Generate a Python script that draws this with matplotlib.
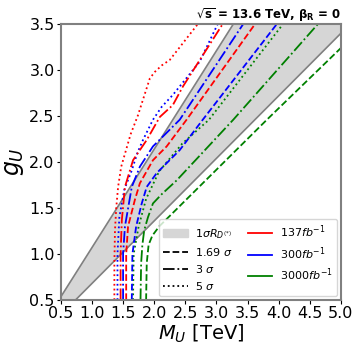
import numpy as np
import matplotlib
matplotlib.use('Agg')
import matplotlib.pyplot as plt
from matplotlib.patches import Patch
from matplotlib.lines import Line2D

# 1 sigma band of R_D(*):  g_U = k * M_U
band_M = [0.5, 5.0]
band_k_low = 0.68
band_k_high = 1.07

# curves: (M_U [TeV], g_U)
red_5s_M = [1.36, 1.36, 1.37, 1.39, 1.42, 1.47, 1.53, 1.62, 1.74, 1.83, 1.93, 2.01, 2.12, 2.25, 2.47, 2.70]
red_5s_g = [0.50, 0.90, 1.26, 1.50, 1.73, 1.95, 2.09, 2.30, 2.51, 2.70, 2.91, 2.98, 3.05, 3.11, 3.30, 3.50]

blue_5s_M = [1.41, 1.41, 1.44, 1.52, 1.64, 1.73, 1.82, 1.98, 2.12, 2.30, 2.73, 3.02]
blue_5s_g = [0.50, 1.00, 1.40, 1.70, 1.91, 2.10, 2.24, 2.46, 2.60, 2.73, 3.09, 3.50]

red_3s_M = [1.46, 1.46, 1.48, 1.53, 1.66, 1.88, 2.09, 2.30, 2.46, 3.10]
red_3s_g = [0.50, 1.00, 1.37, 1.73, 2.02, 2.24, 2.49, 2.62, 2.82, 3.50]

blue_3s_M = [1.50, 1.50, 1.53, 1.64, 1.77, 1.98, 2.41, 3.43]
blue_3s_g = [0.50, 1.00, 1.30, 1.73, 1.95, 2.17, 2.46, 3.50]

red_169_M = [1.55, 1.55, 1.58, 1.69, 1.77, 1.98, 2.20, 2.52, 3.62]
red_169_g = [0.50, 1.00, 1.30, 1.59, 1.77, 2.02, 2.17, 2.46, 3.50]

blue_169_M = [1.64, 1.65, 1.71, 1.80, 1.88, 2.04, 2.41, 2.78, 3.97]
blue_169_g = [0.50, 1.00, 1.30, 1.55, 1.73, 1.88, 2.13, 2.46, 3.50]

green_5s_M = [1.66, 1.67, 1.75, 1.87, 2.08, 2.45, 2.88, 4.07]
green_5s_g = [0.50, 1.00, 1.30, 1.60, 1.90, 2.20, 2.46, 3.50]

green_3s_M = [1.78, 1.79, 1.81, 1.84, 1.90, 1.98, 2.12, 2.36, 3.27, 4.63]
green_3s_g = [0.50, 0.90, 1.10, 1.26, 1.40, 1.55, 1.65, 1.80, 2.46, 3.50]

green_169_M = [1.87, 1.88, 1.91, 1.97, 2.08, 3.81, 5.00]
green_169_g = [0.50, 0.90, 1.10, 1.20, 1.30, 2.46, 3.24]

lumi_labels = [r'$137fb^{-1}$', r'$300fb^{-1}$', r'$3000fb^{-1}$']
lumi_colors = ['red', 'blue', 'green']
sig_labels = [r'1.69 $\sigma$', r'3 $\sigma$', r'5 $\sigma$']
sig_styles = ['--', '-.', ':']

fig = plt.figure(figsize=(3.6, 3.54), dpi=100)
ax = fig.add_axes([0.169, 0.1525, 0.778, 0.7795])

# 带状区域
bm = np.array(band_M)
ax.fill_between(bm, band_k_low * bm, band_k_high * bm, color='#d6d6d6', lw=0)
ax.plot(bm, band_k_low * bm, color='gray', lw=1.2)
ax.plot(bm, band_k_high * bm, color='gray', lw=1.2)

lw = 1.3
ax.plot(red_5s_M, red_5s_g, color='red', ls=':', lw=lw)
ax.plot(blue_5s_M, blue_5s_g, color='blue', ls=':', lw=lw)
ax.plot(green_5s_M, green_5s_g, color='green', ls=':', lw=lw)
ax.plot(red_3s_M, red_3s_g, color='red', ls='-.', lw=lw)
ax.plot(blue_3s_M, blue_3s_g, color='blue', ls='-.', lw=lw)
ax.plot(green_3s_M, green_3s_g, color='green', ls='-.', lw=lw)
ax.plot(red_169_M, red_169_g, color='red', ls='--', lw=lw)
ax.plot(blue_169_M, blue_169_g, color='blue', ls='--', lw=lw)
ax.plot(green_169_M, green_169_g, color='green', ls='--', lw=lw)

ax.set_xlim(0.5, 5.0)
ax.set_ylim(0.5, 3.5)
ax.set_xticks(np.arange(0.5, 5.01, 0.5))
ax.set_yticks(np.arange(0.5, 3.51, 0.5))
ax.tick_params(labelsize=11.5, length=3, pad=1.5)
for s in ax.spines.values():
    s.set_color('gray')
    s.set_linewidth(1.5)

ax.set_xlabel(r'$M_U$ [TeV]', fontsize=14, labelpad=1)
ax.set_ylabel(r'$g_U$', fontsize=17, labelpad=2)
ax.set_title(r'$\mathbf{\sqrt{s}}$ = 13.6 TeV, $\mathbf{\beta_R}$ = 0',
             loc='right', fontweight='bold', fontsize=8.5, pad=3)

# 图例
handles = [Patch(color='#d6d6d6', label=r'$1\sigma R_{D^{(*)}}$')]
for st, lb in zip(sig_styles, sig_labels):
    handles.append(Line2D([], [], color='black', ls=st, lw=1.3, label=lb))
for c, lb in zip(lumi_colors, lumi_labels):
    handles.append(Line2D([], [], color=c, lw=1.3, label=lb))
ax.legend(handles=handles, ncol=2, loc='lower right', fontsize=8,
          handlelength=2.2, handletextpad=0.7, columnspacing=1.3,
          labelspacing=0.45, borderaxespad=0.35)

fig.savefig('out.png', dpi=100)
